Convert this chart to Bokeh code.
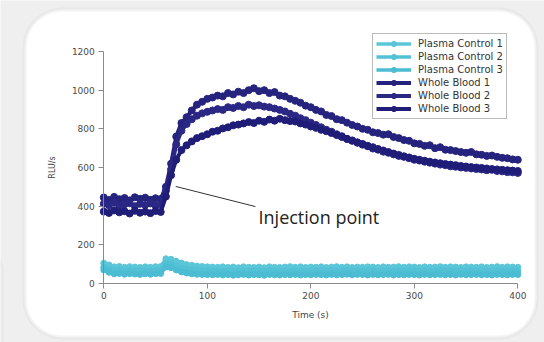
from bokeh.plotting import figure
from bokeh.models import (Range1d, FixedTicker, Legend, LegendItem, BoxAnnotation, Label)
from bokeh.embed import file_html
from bokeh.resources import INLINE

# ---------------- data ----------------
time_s = list(range(0, 405, 5))

whole_blood_1 = [445, 432, 448, 436, 442, 430, 446, 438, 444, 433, 441, 437,
                 500, 620, 760, 830, 860, 895, 925, 940, 955, 962, 972, 968,
                 985, 978, 992, 985, 1000, 1010, 995, 1000, 985, 990, 972, 968,
                 955, 945, 935, 920, 912, 898, 890, 872, 866, 850, 845, 832,
                 820, 812, 800, 795, 782, 778, 770, 772, 758, 752, 742, 738,
                 725, 722, 712, 715, 700, 705, 692, 690, 685, 680, 676, 680,
                 668, 666, 660, 662, 655, 650, 648, 642, 640]
whole_blood_2 = [412, 405, 418, 402, 410, 415, 400, 412, 406, 414, 403, 410,
                 480, 590, 720, 790, 825, 850, 868, 880, 888, 895, 902, 898,
                 912, 908, 918, 912, 925, 918, 922, 915, 912, 905, 898, 890,
                 878, 868, 855, 845, 832, 820, 808, 795, 785, 772, 762, 748,
                 740, 728, 718, 710, 698, 692, 682, 676, 668, 660, 655, 648,
                 640, 636, 630, 625, 620, 615, 612, 606, 604, 600, 598, 595,
                 592, 590, 586, 588, 582, 580, 576, 575, 572]
whole_blood_3 = [372, 365, 378, 368, 374, 362, 376, 366, 372, 364, 375, 370,
                 450, 560, 640, 690, 715, 735, 752, 762, 772, 785, 790, 802,
                 808, 818, 822, 828, 835, 830, 842, 836, 848, 842, 852, 845,
                 840, 838, 828, 822, 812, 805, 795, 788, 778, 768, 758, 748,
                 738, 730, 722, 712, 705, 696, 688, 680, 672, 665, 658, 652,
                 645, 640, 635, 630, 626, 622, 618, 615, 612, 608, 605, 602,
                 600, 598, 595, 592, 590, 588, 586, 584, 582]
plasma_control_1 = [105, 96, 86, 88, 84, 87, 85, 83, 86, 84, 87, 88,
                    128, 125, 115, 106, 98, 94, 90, 88, 86, 85, 84, 86,
                    83, 85, 82, 86, 84, 83, 85, 82, 86, 84, 83, 85,
                    87, 84, 86, 83, 85, 84, 86, 83, 85, 87, 84, 86,
                    83, 85, 84, 86, 85, 83, 86, 84, 85, 87, 84, 86,
                    85, 83, 86, 84, 85, 87, 84, 86, 85, 83, 86, 85,
                    84, 86, 83, 85, 87, 84, 86, 85, 84]
plasma_control_2 = [85, 74, 66, 68, 64, 67, 65, 63, 66, 64, 67, 68,
                    105, 100, 90, 80, 74, 70, 68, 66, 65, 64, 66, 63,
                    65, 62, 64, 66, 63, 65, 64, 62, 66, 64, 63, 65,
                    64, 66, 63, 65, 64, 66, 65, 63, 66, 64, 65, 67,
                    64, 66, 65, 63, 66, 64, 65, 66, 63, 65, 64, 66,
                    65, 63, 66, 64, 65, 66, 64, 65, 63, 66, 64, 65,
                    66, 64, 65, 63, 66, 65, 64, 66, 65]
plasma_control_3 = [70, 58, 50, 52, 48, 51, 49, 47, 50, 48, 51, 52,
                    85, 82, 70, 60, 54, 50, 48, 47, 46, 45, 47, 44,
                    46, 43, 45, 47, 44, 46, 45, 43, 47, 45, 44, 46,
                    45, 47, 44, 46, 45, 47, 46, 44, 47, 45, 46, 48,
                    45, 47, 46, 44, 47, 45, 46, 47, 44, 46, 45, 47,
                    46, 44, 47, 45, 46, 47, 45, 46, 44, 47, 45, 46,
                    47, 45, 46, 44, 47, 46, 45, 47, 46]

series_names = ["Plasma Control 1", "Plasma Control 2", "Plasma Control 3",
                "Whole Blood 1", "Whole Blood 2", "Whole Blood 3"]
series_values = [plasma_control_1, plasma_control_2, plasma_control_3,
                 whole_blood_1, whole_blood_2, whole_blood_3]

x_ticks = [0, 100, 200, 300, 400]
y_ticks = [0, 200, 400, 600, 800, 1000, 1200]

# annotation: injection point (data coordinates)
inj_point = (69.5, 502)
inj_line_end = (146.5, 398)
inj_label_pos = (149.5, 343)
inj_text = "Injection point"

# ---------------- layout ----------------
W, H = 544, 342
X0_PX, PX_PER_X = 103.3, 1.035          # pixel of x=0, pixels per second
Y0_PX, PX_PER_Y = 283.0, 232.0 / 1200   # pixel row of y=0, pixels per RLU/s

def x_of(px):
    return (px - X0_PX) / PX_PER_X

def y_of(py):
    return (Y0_PX - py) / PX_PER_Y

p = figure(width=W, height=H, output_backend="svg", toolbar_location=None,
           x_range=Range1d(x_of(0), x_of(W)), y_range=Range1d(y_of(H), y_of(0)),
           min_border=0)
p.border_fill_color = "#efefef"
p.background_fill_color = "#efefef"
p.outline_line_color = None
p.grid.visible = False

# page decoration: rounded white card with gray border, and edge of a neighbour card
left_card = BoxAnnotation(left=x_of(-40), right=x_of(1.5), top=y_of(254), bottom=y_of(420),
                          fill_color="#f7f7f7", fill_alpha=1, line_color="#d3d4d6",
                          line_width=3, border_radius=14, level="underlay")
card = BoxAnnotation(left=x_of(24), right=x_of(536), top=y_of(9), bottom=y_of(337),
                     fill_color="#ffffff", fill_alpha=1, line_color="#d6d7d9",
                     line_width=4, border_radius=38, level="underlay")
p.add_layout(left_card)
p.add_layout(card)

colors = ["#5cc6d9", "#52c1d5", "#4bbcd2", "#25237e", "#2a2884", "#1f1d78"]
items = []
for name, vals, c in zip(series_names, series_values, colors):
    is_wb = name.startswith("Whole")
    r1 = p.line(time_s, vals, line_color=c, line_width=4 if is_wb else 3.5)
    r2 = p.scatter(time_s, vals, marker="circle", size=7 if is_wb else 6,
                   fill_color=c, line_color=c)
    items.append(LegendItem(label=name, renderers=[r1, r2]))

# injection annotation
p.segment(x0=[inj_point[0]], y0=[inj_point[1]], x1=[inj_line_end[0]], y1=[inj_line_end[1]],
          line_color="#333333", line_width=1)
p.add_layout(Label(x=inj_label_pos[0], y=inj_label_pos[1], text=inj_text,
                   text_font="Open Sans", text_font_size="18px",
                   text_color="#222222", text_baseline="alphabetic"))

# axes, placed at the data origin
for ax in (p.xaxis[0], p.yaxis[0]):
    ax.fixed_location = 0
    ax.axis_line_color = "#8a8a8a"
    ax.major_tick_line_color = "#8a8a8a"
    ax.minor_tick_line_color = None
    ax.major_tick_in = 0
    ax.major_tick_out = 5
    ax.major_label_text_font = "DejaVu Sans"
    ax.major_label_text_font_size = "9px"
    ax.major_label_text_color = "#4a4a4a"
    ax.axis_label_text_font = "DejaVu Sans"
    ax.axis_label_text_font_style = "normal"
    ax.axis_label_text_color = "#444444"

p.xaxis.ticker = FixedTicker(ticks=x_ticks)
p.yaxis.ticker = FixedTicker(ticks=y_ticks)
p.xaxis.bounds = (0, 400)
p.yaxis.bounds = (0, 1200)
p.xaxis.axis_label = "Time (s)"
p.yaxis.axis_label = "RLU/s"
p.xaxis.axis_label_text_font_size = "9px"
p.yaxis.axis_label_text_font_size = "8px"
p.xaxis.major_label_standoff = 3
p.yaxis.major_label_standoff = 4
p.xaxis.axis_label_standoff = 8
p.yaxis.axis_label_standoff = 12

legend = Legend(items=items, location=(372, H - 119), orientation="vertical",
                label_text_font="DejaVu Sans", label_text_font_size="10px",
                label_text_color="#333333", label_standoff=7,
                glyph_width=35, glyph_height=13, label_height=13, spacing=0,
                padding=3, margin=0, border_line_color="#777777", border_line_width=1,
                background_fill_color="#ffffff", background_fill_alpha=1)
p.add_layout(legend)

open("out.html", "w").write(file_html(p, INLINE))
